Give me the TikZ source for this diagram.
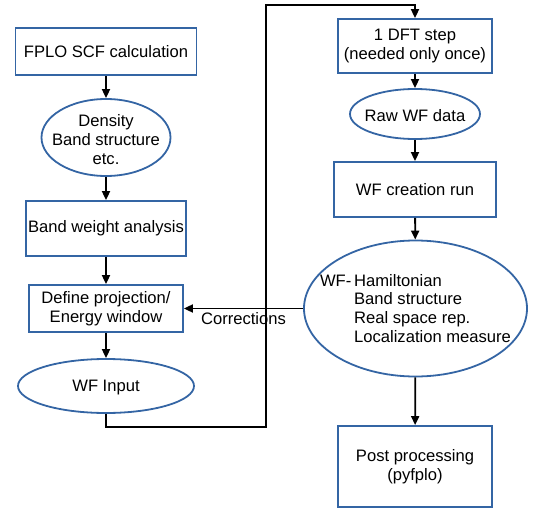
\documentclass[tikz,border=0pt]{standalone}
\usepackage{fontspec}
\setmainfont{Liberation Sans}
\usetikzlibrary{shapes.geometric,arrows.meta}
\definecolor{boxblue}{HTML}{3465A4}
\begin{document}
\begin{tikzpicture}[x=1pt,y=-1pt,line width=1.8pt,
        every node/.style={font=\fontsize{16.6}{18.7}\selectfont,align=center},
        every label/.style={yshift=-2pt},
        box/.style={draw=boxblue,rectangle,inner sep=0pt},
        oval/.style={draw=boxblue,ellipse,inner sep=0pt},
        arr/.style={-{Triangle[length=9pt,width=8pt]},black}]
    \useasboundingbox (0,0) rectangle (533,508);
    % left column
    \node (scf) [box,minimum width=181pt,minimum height=47pt] at (106,51.5) {FPLO SCF calculation};
    \node (dens) [oval,minimum width=129pt,minimum height=77pt,label={[align=center]center:Density\\Band structure\\etc.}] at (106,137.5) {};
    \node (bwa) [box,minimum width=160pt,minimum height=55pt] at (106,228.5) {Band weight analysis};
    \node (proj) [box,minimum width=154pt,minimum height=47pt] at (106,308.5) {Define projection/\\Energy window};
    \node (wfin) [oval,minimum width=176pt,minimum height=54pt,label={center:WF Input}] at (106,386) {};
    % right column
    \node (dft) [box,minimum width=154pt,minimum height=54pt] at (415,46) {1 DFT step\\(needed only once)};
    \node (raw) [oval,minimum width=130pt,minimum height=50pt,label={center:Raw WF data}] at (415,114) {};
    \node (run) [box,minimum width=162pt,minimum height=55pt] at (415,189.5) {WF creation run};
    \node (wfout) [oval,minimum width=223pt,minimum height=136pt,label={[align=left]center:\begin{tabular}{@{}l@{}l@{}}WF-\,&Hamiltonian\\&Band structure\\&Real space rep.\\&Localization measure\end{tabular}}] at (415.5,308.5) {};
    \node (post) [box,minimum width=154pt,minimum height=81pt] at (415,466.5) {Post processing\\(pyfplo)};
    \coordinate (c1) at (266,427);
    \coordinate (c2) at (266,5);
    \draw [arr] (scf) -- (dens);
    \draw [arr] (dens) -- (bwa);
    \draw [arr] (bwa) -- (proj);
    \draw [arr] (proj) -- (wfin);
    \draw [arr] (wfin.south) |- (c1) -- (c2) -| (dft.north);
    \draw [arr] (dft) -- (raw);
    \draw [arr] (raw) -- (run);
    \draw [arr] (run) -- (wfout);
    \draw [arr] (wfout) -- (post);
    \draw [arr] (wfout.west) -- node [below,inner sep=3pt] (corr) {Corrections} (proj.east);
\end{tikzpicture}
\end{document}
